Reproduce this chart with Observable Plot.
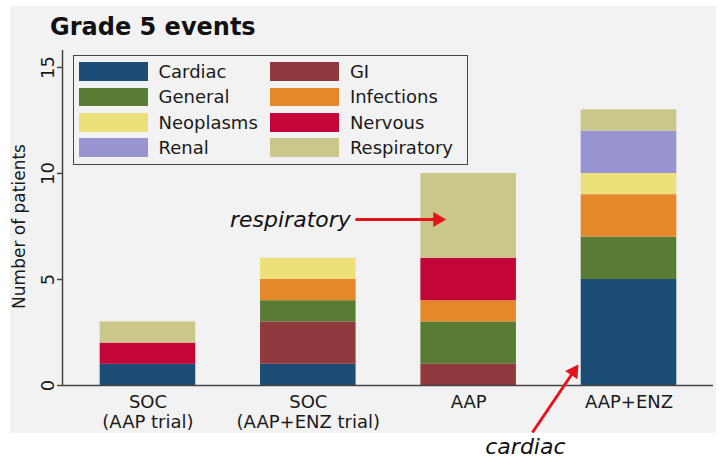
<!DOCTYPE html>
<html>
<head>
<meta charset="utf-8">
<script src="https://cdn.jsdelivr.net/npm/d3@7"></script>
<script src="https://cdn.jsdelivr.net/npm/@observablehq/plot@0.6"></script>
<style>
  body { margin: 0; background: #ffffff; font-family: "DejaVu Sans", sans-serif; }
  #wrap { position: relative; width: 724px; height: 466px; overflow: hidden; }
  #panel { position: absolute; left: 10px; top: 6px; width: 706px; height: 427px; background: #f2f2f2; }
  #title { position: absolute; left: 50px; top: 15px; font-size: 24px; line-height: 24px; font-weight: bold; color: #111; }
  #chart { position: absolute; left: 0; top: 0; }
  #legend {
    position: absolute; left: 73px; top: 55px; width: 395px; height: 110px;
    box-sizing: border-box; border: 1.5px solid #444;
    display: grid; grid-template-columns: 191.4px 191.4px; grid-auto-rows: 25.4px;
    padding: 2.8px 0 0 4.8px;
    font-size: 18px; color: #1a1a1a;
  }
  .item { display: flex; align-items: center; white-space: nowrap; }
  .sw { width: 69px; height: 18.7px; margin-right: 10.7px; flex: none; }
</style>
</head>
<body>
<div id="wrap">
  <div id="panel"></div>
  <div id="title">Grade 5 events</div>
  <div id="chart"></div>
  <div id="legend"></div>
</div>
<script>
// Treatment groups along the x axis
const groups = ["SOC\n(AAP trial)", "SOC\n(AAP+ENZ trial)", "AAP", "AAP+ENZ"];

// Causes of grade 5 events, in stacking order (bottom to top)
const causes = ["Cardiac", "GI", "General", "Infections", "Neoplasms", "Nervous", "Renal", "Respiratory"];
const causeColors = ["#1b4d76", "#90393f", "#597b34", "#e4882a", "#ebe07a", "#c30539", "#9893d1", "#cbc68a"];

// Number of patients per cause, one value per group
const cardiac     = [1, 1, 0, 5];
const gi          = [0, 2, 1, 0];
const general     = [0, 1, 2, 2];
const infections  = [0, 1, 1, 2];
const neoplasms   = [0, 1, 0, 1];
const nervous     = [1, 0, 2, 0];
const renal       = [0, 0, 0, 2];
const respiratory = [1, 0, 4, 1];
const counts = [cardiac, gi, general, infections, neoplasms, nervous, renal, respiratory];

const yTicks = [0, 5, 10, 15];
const yLabel = "Number of patients";

// Callouts: label positions and arrows (tail -> head) in data units
const respiratoryLabel = [{text: "respiratory", x: 1.265, y: 7.83}];
const cardiacLabel = [{text: "cardiac", x: 2.354, y: -2.88}];
const calloutArrows = [
  {x1: 1.294, y1: 7.83, x2: 1.806, y2: 7.83, angle: 90},
  {x1: 2.398, y1: -2.217, x2: 2.655, y2: 0.66, angle: 34}
];

const rows = [];
causes.forEach((cause, c) => {
  counts[c].forEach((n, i) => { if (n > 0) rows.push({cause, i, n}); });
});

const xDomain = [-0.533, 3.527];
const halfWidth = 0.298;
const axisColor = "#444";
const red = "#e3141c";

const chart = Plot.plot({
  width: 724,
  height: 466,
  marginLeft: 62,
  marginRight: 11,
  marginTop: 50,
  marginBottom: 81,
  style: {background: "transparent", fontFamily: "DejaVu Sans, sans-serif", fontSize: "18px", color: "#1a1a1a", overflow: "visible"},
  x: {domain: xDomain, axis: null},
  y: {domain: [0, 15.8], axis: null},
  color: {domain: causes, range: causeColors},
  marks: [
    Plot.rectY(rows, {x1: d => d.i - halfWidth, x2: d => d.i + halfWidth, y: "n", fill: "cause"}),
    Plot.ruleY([0], {stroke: axisColor, strokeWidth: 1.5}),
    Plot.ruleX([xDomain[0]], {stroke: axisColor, strokeWidth: 1.5}),
    Plot.axisY({ticks: yTicks, tickSize: 5, tickPadding: 4, tickRotate: -90, stroke: axisColor, strokeWidth: 1.5, label: null}),
    Plot.axisX({ticks: [0, 1, 2, 3], tickFormat: i => groups[i], tickSize: 0, tickPadding: 8, lineHeight: 1.11, label: null}),
    // y-axis title, centred on the 0–15 tick range
    Plot.text([yLabel], {x: xDomain[0] - 0.27, y: 7.5, rotate: -90, text: d => d, fontSize: 17}),
    Plot.link(calloutArrows, {x1: "x1", y1: "y1", x2: "x2", y2: "y2", stroke: red, strokeWidth: 3}),
    Plot.dot(calloutArrows, {x: "x2", y: "y2", symbol: "triangle", r: 5.5, rotate: "angle", fill: red, stroke: "none"}),
    Plot.text(respiratoryLabel, {x: "x", y: "y", text: "text", textAnchor: "end", fontSize: 22, fontStyle: "italic", fill: "#111"}),
    Plot.text(cardiacLabel, {x: "x", y: "y", text: "text", textAnchor: "middle", fontSize: 22, fontStyle: "italic", fill: "#111"})
  ]
});
document.getElementById("chart").appendChild(chart);

// Legend: two columns, swatches filled from the same colour list
const legend = d3.select("#legend");
causes.forEach((cause, c) => {
  const item = legend.append("div").attr("class", "item");
  item.append("div").attr("class", "sw").style("background", causeColors[c]);
  item.append("span").text(cause);
});
</script>
</body>
</html>
